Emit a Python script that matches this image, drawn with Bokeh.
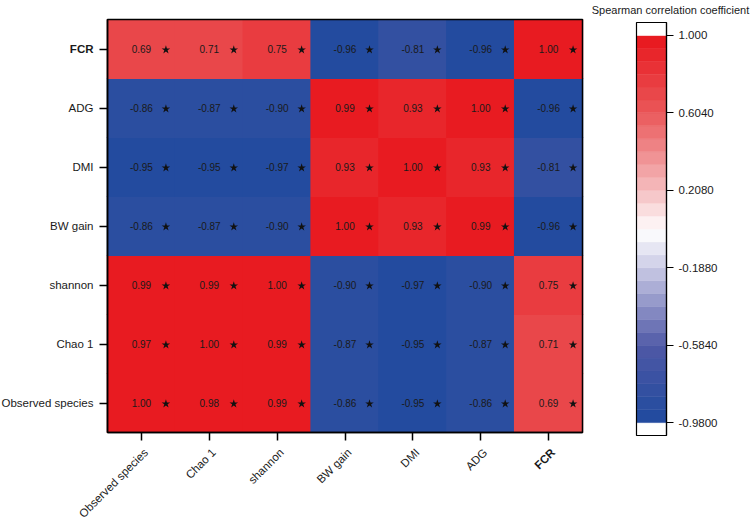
import math
import numpy as np
from bokeh.plotting import figure
from bokeh.models import (ColumnDataSource, LinearColorMapper, FixedTicker, Range1d,
                          LinearAxis, CustomJSTickFormatter)
from bokeh.transform import transform
from bokeh.core.properties import value
from bokeh.embed import file_html
from bokeh.resources import INLINE

# ---------------- data ----------------
categories = ["Observed species", "Chao 1", "shannon", "BW gain", "DMI", "ADG", "FCR"]

# one list per row (row variable), columns in `categories` order
r_observed = [1.00, 0.98, 0.99, -0.86, -0.95, -0.86, 0.69]
r_chao1 = [0.97, 1.00, 0.99, -0.87, -0.95, -0.87, 0.71]
r_shannon = [0.99, 0.99, 1.00, -0.90, -0.97, -0.90, 0.75]
r_bwgain = [-0.86, -0.87, -0.90, 1.00, 0.93, 0.99, -0.96]
r_dmi = [-0.95, -0.95, -0.97, 0.93, 1.00, 0.93, -0.81]
r_adg = [-0.86, -0.87, -0.90, 0.99, 0.93, 1.00, -0.96]
r_fcr = [0.69, 0.71, 0.75, -0.96, -0.81, -0.96, 1.00]
rows = [r_observed, r_chao1, r_shannon, r_bwgain, r_dmi, r_adg, r_fcr]

bold_label = "FCR"
cb_title = "Spearman correlation coefficient"
cb_ticks = [-0.98, -0.584, -0.188, 0.208, 0.604, 1.0]
cb_tick_labels = ["-0.9800", "-0.5840", "-0.1880", "0.2080", "0.6040", "1.000"]
cb_low, cb_high, n_steps = -0.98, 1.0, 30

# ---------------- colours ----------------
red_t = [0.0, 0.2, 0.6, 1.0]
red_rgb = [(255, 255, 255), (245, 192, 194), (234, 88, 90), (232, 22, 28)]
blue_t = [0.0, 0.2, 0.6, 1.0]
blue_rgb = [(255, 255, 255), (200, 200, 228), (78, 88, 166), (31, 74, 158)]


def colour(v):
    if v >= 0:
        t, ts, rgbs = v / cb_high, red_t, red_rgb
    else:
        t, ts, rgbs = v / cb_low, blue_t, blue_rgb
    c = [np.interp(t, ts, [a[i] for a in rgbs]) for i in range(3)]
    return "#%02x%02x%02x" % tuple(int(round(x)) for x in c)


step = (cb_high - cb_low) / n_steps
centres = cb_low + step * (np.arange(n_steps) + 0.5)
palette = [colour(c) for c in centres]
mapper = LinearColorMapper(palette=palette, low=cb_low, high=cb_high)

FONT = "Liberation Sans"
TXT = "#1a1a1a"
LBL = "11.5px"

# ---------------- layout (canvas pixels) ----------------
W, H = 752, 520
n = len(categories)
CX0, CX1, CY0, CY1 = 107, 582, 19, 432      # cell block: left, right, top, bottom
PX_X, PX_Y = (CX1 - CX0) / n, (CY1 - CY0) / n
TICK, STANDOFF = 8, 6
BX0, BX1, BY0, BY1 = 636, 666, 22, 435       # colour bar box
cb_lo_edge, cb_hi_edge = cb_low - step, cb_high + step
PX_V = (BY1 - BY0) / (cb_hi_edge - cb_lo_edge)


def ux(px):   # canvas x (px) -> data x
    return (px - CX0) / PX_X


def uy(py):   # canvas y (px) -> data y
    return (CY1 - py) / PX_Y


p = figure(x_range=Range1d(ux(0), ux(W)), y_range=Range1d(uy(H), uy(0)),
           frame_width=W, frame_height=H, title=None,
           x_axis_location=None, y_axis_location=None,
           output_backend="svg", toolbar_location=None, min_border=0,
           background_fill_color="white", border_fill_color="white",
           outline_line_color=None)
p.grid.grid_line_color = None
p.extra_y_ranges = {"cb": Range1d(cb_hi_edge - (H - BY0) / PX_V, cb_hi_edge + BY0 / PX_V)}

# ---------------- heat map ----------------
pos = [i + 0.5 for i in range(n)]
xs, ys, vs, labs = [], [], [], []
for yi, rv in enumerate(rows):
    for xi, v in enumerate(rv):
        xs.append(pos[xi])
        ys.append(pos[yi])
        vs.append(v)
        labs.append(f"{v:.2f}")
src = ColumnDataSource(dict(x=xs, y=ys, v=vs, lab=labs,
                            sx=[x + 24.5 / PX_X for x in xs],
                            sy=[y - 0.8 / PX_Y for y in ys]))

p.rect(x="x", y="y", width=1.02, height=1.02, source=src,
       fill_color=transform("v", mapper), line_color=None)
p.text(x="x", y="y", text="lab", source=src, text_align="center", text_baseline="middle",
       text_font_size="10px", text_font=value(FONT), text_color=TXT)
p.scatter(x="sx", y="sy", source=src, marker="star", size=9,
          fill_color="#111111", line_color=None)
p.quad(left=0, right=n, bottom=0, top=n, fill_color=None,
       line_color="black", line_width=1.5)

# axes pinned to the cell block
y_names = {pp: ("" if c == bold_label else c) for pp, c in zip(pos, categories)}
yax = LinearAxis(fixed_location=0, bounds=(0, n), ticker=FixedTicker(ticks=pos),
                 major_label_overrides=y_names)
xax = LinearAxis(fixed_location=0, bounds=(0, n), ticker=FixedTicker(ticks=pos),
                 formatter=CustomJSTickFormatter(code="return '';"))
for ax in (xax, yax):
    ax.axis_line_color = "black"
    ax.axis_line_width = 1.5
    ax.major_tick_line_color = "black"
    ax.major_tick_line_width = 1.5
    ax.major_tick_out = TICK
    ax.major_tick_in = 0
    ax.minor_tick_line_color = None
    ax.major_label_standoff = STANDOFF
    ax.major_label_text_font = FONT
    ax.major_label_text_font_size = LBL
    ax.major_label_text_color = TXT
p.add_layout(yax, "left")
p.add_layout(xax, "below")

bi = categories.index(bold_label)
p.text(x=[-(TICK + STANDOFF) / PX_X], y=[pos[bi]], text=[bold_label], text_align="right",
       text_baseline="middle", text_font=value(FONT), text_font_size=LBL,
       text_font_style="bold", text_color=TXT)

xl_src = ColumnDataSource(dict(
    x=[pp + 4.5 / PX_X for pp in pos],
    y=[-18 / PX_Y] * n,
    t=categories,
    st=["bold" if c == bold_label else "normal" for c in categories]))
p.text(x="x", y="y", text="t", source=xl_src, angle=math.pi / 4, text_align="right",
       text_baseline="middle", text_font=value(FONT), text_font_size=LBL,
       text_font_style="st", text_color=TXT)

# ---------------- colour bar ----------------
cb_bottoms = [cb_lo_edge] + list(cb_low + step * np.arange(n_steps)) + [cb_high]
cb_tops = [cb_low] + list(cb_low + step * (np.arange(n_steps) + 1)) + [cb_hi_edge]
cb_cols = ["white"] + palette + ["white"]
cb_src = ColumnDataSource(dict(b=cb_bottoms, t=cb_tops, c=cb_cols))
p.quad(left=ux(BX0), right=ux(BX1), bottom="b", top="t", fill_color="c", line_color="c",
       line_width=0.5, source=cb_src, y_range_name="cb")
p.quad(left=ux(BX0), right=ux(BX1), bottom=cb_lo_edge, top=cb_hi_edge, fill_color=None,
       line_color="black", line_width=1.2, y_range_name="cb")

cbax = LinearAxis(y_range_name="cb", fixed_location=ux(BX1),
                  bounds=(cb_lo_edge, cb_hi_edge), ticker=FixedTicker(ticks=cb_ticks),
                  major_label_overrides=dict(zip(cb_ticks, cb_tick_labels)))
cbax.axis_line_color = "black"
cbax.axis_line_width = 1.2
cbax.major_tick_line_color = "black"
cbax.major_tick_line_width = 1.2
cbax.major_tick_out = 7
cbax.major_tick_in = 0
cbax.minor_tick_line_color = None
cbax.major_label_standoff = 5
cbax.major_label_text_font = FONT
cbax.major_label_text_font_size = LBL
cbax.major_label_text_color = TXT
p.add_layout(cbax, "right")

p.text(x=[ux(670)], y=[uy(9)], text=[cb_title], text_align="center", text_baseline="middle",
       text_font=value(FONT), text_font_size="11px", text_color=TXT)

open("out.html", "w").write(file_html(p, INLINE))
